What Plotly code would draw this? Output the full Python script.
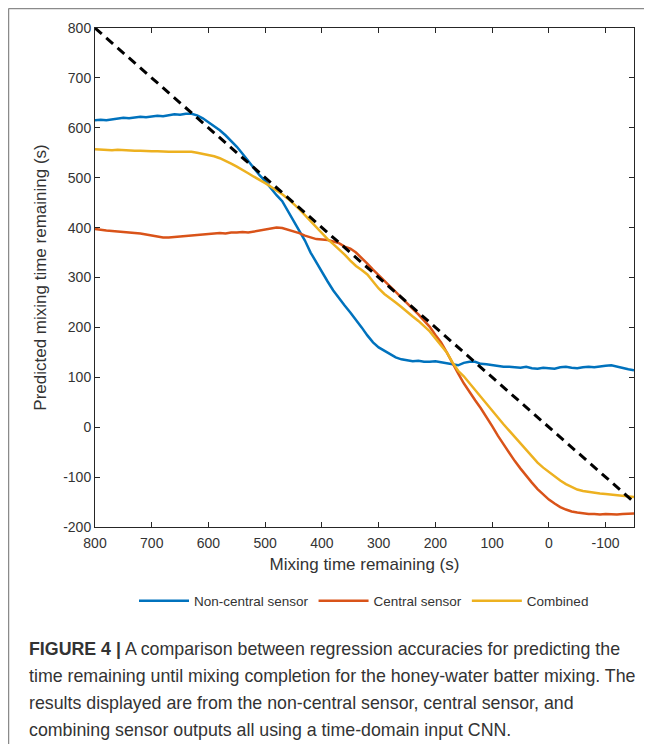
import plotly.graph_objects as go

# x grid: mixing time remaining (s), 800 down to -150 in steps of 10
mix_time = list(range(800, -160, -10))

non_central = [615, 616, 615, 617, 618, 620, 619, 621, 622, 621,
               623, 624, 623, 625, 627, 626, 628, 628, 625, 619,
               611, 603, 595, 585, 574, 562, 548, 533, 518, 505,
               493, 478, 465, 453, 433, 414, 396, 374, 350, 330,
               312, 292, 274, 258, 244, 230, 216, 200, 184, 170,
               160, 153, 147, 140, 136, 134, 132, 133, 131, 131,
               132, 130, 128, 126, 124, 129, 131, 131, 127, 126,
               124, 122, 121, 121, 120, 119, 121, 118, 117, 119,
               118, 117, 120, 121, 119, 118, 120, 121, 120, 122,
               123, 124, 121, 118, 116, 114]

central = [397, 395, 394, 393, 392, 392, 391, 389, 388, 386,
           384, 383, 380, 380, 381, 383, 384, 385, 386, 387,
           387, 388, 389, 388, 390, 390, 391, 390, 392, 394,
           395, 397, 400, 399, 396, 392, 389, 384, 380, 377,
           376, 375, 372, 369, 362, 358, 350, 340, 328, 316,
           304, 293, 282, 271, 259, 248, 237, 226, 214, 201,
           185, 170, 150, 128, 108, 88, 70, 54, 38, 21,
           2, -17, -34, -52, -68, -83, -98, -111, -124, -134,
           -145, -153, -160, -165, -169, -171, -173, -174, -174, -175,
           -174, -175, -175, -174, -173, -173]

combined = [557, 556, 556, 555, 556, 555, 555, 554, 554, 553,
            553, 553, 552, 552, 552, 552, 552, 552, 550, 548,
            546, 543, 539, 534, 528, 522, 516, 509, 502, 496,
            489, 482, 475, 467, 458, 448, 437, 425, 413, 400,
            387, 377, 367, 357, 346, 334, 323, 315, 306, 292,
            278, 267, 259, 250, 241, 231, 222, 213, 203, 192,
            178, 164, 150, 130, 113, 102, 88, 76, 62, 48,
            33, 20, 6, -7, -20, -33, -45, -58, -71, -81,
            -90, -99, -107, -114, -120, -125, -128, -130, -132, -133,
            -134, -135, -136, -137, -139, -140]

ideal_x = [800, -150]
ideal_y = [800, -150]

x_ticks = [800, 700, 600, 500, 400, 300, 200, 100, 0, -100]
y_ticks = [800, 700, 600, 500, 400, 300, 200, 100, 0, -100, -200]

caption_lines = [
    "<b>FIGURE 4 |</b> A comparison between regression accuracies for predicting the",
    "time remaining until mixing completion for the honey-water batter mixing. The",
    "results displayed are from the non-central sensor, central sensor, and",
    "combining sensor outputs all using a time-domain input CNN.",
]

# page has an 8px body margin; figure is placed at (8, 8)
OFF = 8
W, H = 652 - OFF, 744 - OFF
L, T = 95 - OFF, 28 - OFF
R = W - (634 - OFF)
B = H - (527 - OFF)
pw, ph = W - L - R, H - T - B

def px_to_paper(px, py):
    # px, py are page coordinates
    fx, fy = px - OFF, py - OFF
    return (fx - L) / pw, (H - B - fy) / ph

FONT = "Liberation Sans, Arial, Helvetica"
TXT = "#333333"

fig = go.Figure()
fig.add_trace(go.Scatter(x=mix_time, y=non_central, mode="lines", name="Non-central sensor",
                         line=dict(color="#0072BD", width=2.5)))
fig.add_trace(go.Scatter(x=mix_time, y=central, mode="lines", name="Central sensor",
                         line=dict(color="#D95319", width=2.5)))
fig.add_trace(go.Scatter(x=mix_time, y=combined, mode="lines", name="Combined",
                         line=dict(color="#EDB120", width=2.5)))
fig.add_trace(go.Scatter(x=ideal_x, y=ideal_y, mode="lines", showlegend=False,
                         line=dict(color="black", width=3, dash="9px,6px")))

axis_common = dict(showgrid=False, zeroline=False, showline=True, linecolor="#262626",
                   linewidth=1, mirror="ticks", ticks="inside", ticklen=5, tickcolor="#262626",
                   tickfont=dict(family=FONT, size=14, color=TXT))

fig.update_xaxes(range=[800, -150], tickvals=x_ticks, ticktext=[str(v) for v in x_ticks],
                 ticklabelstandoff=3,
                 title=dict(text="Mixing time remaining (s)",
                            font=dict(family=FONT, size=17, color=TXT), standoff=8),
                 **axis_common)
fig.update_yaxes(range=[-200, 800], tickvals=y_ticks, ticktext=[str(v) for v in y_ticks],
                 title=dict(text="Predicted mixing time remaining (s)",
                            font=dict(family=FONT, size=17, color=TXT), standoff=12),
                 **axis_common)

lx, ly = px_to_paper(364, 601)
fig.update_layout(
    width=W, height=H,
    margin=dict(l=L, r=R, t=T, b=B),
    paper_bgcolor="white", plot_bgcolor="white",
    showlegend=True,
    legend=dict(orientation="h", x=lx, y=ly, xanchor="center", yanchor="middle",
                font=dict(family=FONT, size=13.5, color=TXT),
                bgcolor="rgba(0,0,0,0)", itemwidth=50, tracegroupgap=0),
)

# outer frame lines (top and left)
fx0, fy0 = px_to_paper(8.5, 8.5)
fx1, _ = px_to_paper(700, 8.5)
_, fy1 = px_to_paper(8.5, 800)
fig.add_shape(type="line", xref="paper", yref="paper", x0=fx0, y0=fy0, x1=fx1, y1=fy0,
              line=dict(color="#8a8a8a", width=1.5))
fig.add_shape(type="line", xref="paper", yref="paper", x0=fx0, y0=fy0, x1=fx0, y1=fy1,
              line=dict(color="#8a8a8a", width=1.5))

for i, line in enumerate(caption_lines):
    cx, cy = px_to_paper(27, 649 + 27 * i)
    fig.add_annotation(text=line, xref="paper", yref="paper", x=cx, y=cy,
                       xanchor="left", yanchor="middle", showarrow=False,
                       font=dict(family=FONT, size=17.8, color=TXT))

fig.write_html("out.html")
